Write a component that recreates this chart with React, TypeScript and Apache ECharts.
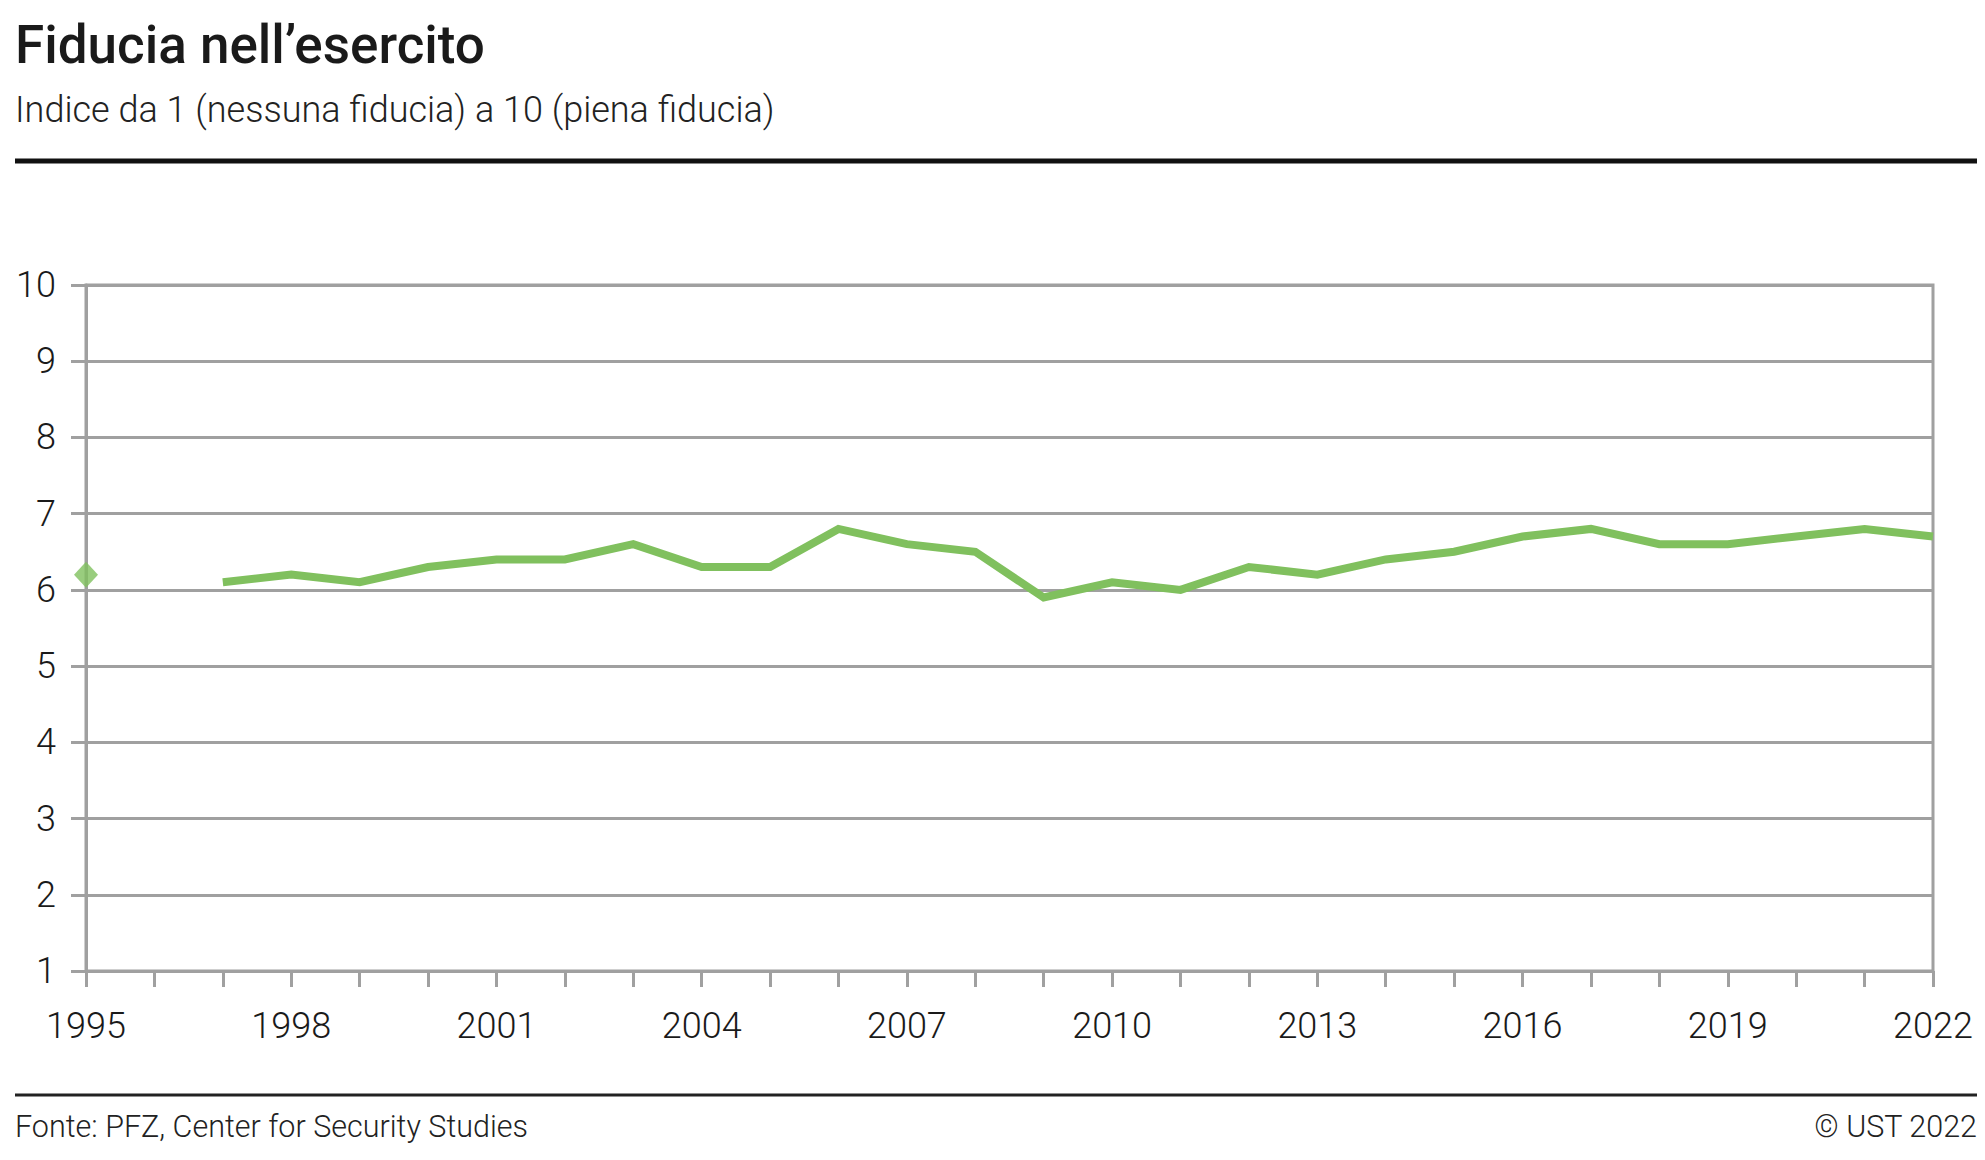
import React, { useEffect, useRef } from "react";
import * as echarts from "echarts";

const years = [
  "1995", "1996", "1997", "1998", "1999", "2000", "2001", "2002", "2003", "2004",
  "2005", "2006", "2007", "2008", "2009", "2010", "2011", "2012", "2013", "2014",
  "2015", "2016", "2017", "2018", "2019", "2020", "2021", "2022",
];
const trustValues: (number | null)[] = [
  null, null, 6.1, 6.2, 6.1, 6.3, 6.4, 6.4, 6.6, 6.3,
  6.3, 6.8, 6.6, 6.5, 5.9, 6.1, 6.0, 6.3, 6.2, 6.4,
  6.5, 6.7, 6.8, 6.6, 6.6, 6.7, 6.8, 6.7,
];
const isolatedPoints: [string, number][] = [["1995", 6.2]];

const titleText = "Fiducia nell\u2019esercito";
const subtitleText = "Indice da 1 (nessuna fiducia) a 10 (piena fiducia)";
const sourceText = "Fonte: PFZ, Center for Security Studies";
const copyrightText = "\u00A9 UST 2022";

const GREEN = "#80c05e";
const GRAY = "#a0a0a0";
const FONT = "Roboto, 'Noto Sans', sans-serif";

export default function App() {
  const ref = useRef<HTMLDivElement>(null);
  useEffect(() => {
    if (!ref.current) return;
    const chart = echarts.init(ref.current, undefined, { renderer: "svg" });
    chart.setOption({
      animation: false,
      backgroundColor: "#ffffff",
      grid: {
        left: 86,
        right: 52,
        top: 285,
        bottom: 189,
        show: true,
        borderColor: GRAY,
        borderWidth: 3,
        backgroundColor: "transparent",
      },
      xAxis: {
        type: "category",
        data: years,
        boundaryGap: false,
        axisLine: { show: true, lineStyle: { color: GRAY, width: 3 } },
        axisTick: { show: true, interval: 0, length: 16, lineStyle: { color: GRAY, width: 3 } },
        axisLabel: {
          interval: 2,
          margin: 37,
          color: "#1a1a1a",
          fontSize: 36,
          fontFamily: FONT,
          fontWeight: 300,
        },
        splitLine: { show: false },
      },
      yAxis: {
        type: "value",
        min: 1,
        max: 10,
        interval: 1,
        axisLine: { show: true, lineStyle: { color: GRAY, width: 3 } },
        axisTick: { show: true, length: 15, lineStyle: { color: GRAY, width: 3 } },
        axisLabel: {
          margin: 30,
          color: "#1a1a1a",
          fontSize: 36,
          fontFamily: FONT,
          fontWeight: 300,
        },
        splitLine: { show: true, lineStyle: { color: GRAY, width: 3 } },
      },
      series: [
        {
          type: "line",
          data: trustValues,
          connectNulls: false,
          symbol: "none",
          lineStyle: { color: GREEN, width: 8, cap: "butt", join: "miter" },
          itemStyle: { color: GREEN },
          z: 5,
        },
        {
          type: "scatter",
          data: isolatedPoints,
          symbol: "diamond",
          symbolSize: [24, 26],
          itemStyle: { color: GREEN },
          z: 6,
        },
      ],
      graphic: [
        {
          type: "text",
          x: 15,
          y: 45,
          style: {
            text: titleText,
            font: `500 53px ${FONT}`,
            fill: "#1a1a1a",
            textAlign: "left",
            textVerticalAlign: "middle",
          },
        },
        {
          type: "text",
          x: 15,
          y: 110,
          style: {
            text: subtitleText,
            font: `300 36px ${FONT}`,
            fill: "#222222",
            textAlign: "left",
            textVerticalAlign: "middle",
          },
        },
        {
          type: "line",
          shape: { x1: 15, y1: 161, x2: 1977, y2: 161 },
          style: { stroke: "#111111", lineWidth: 5 },
        },
        {
          type: "line",
          shape: { x1: 15, y1: 1095, x2: 1977, y2: 1095 },
          style: { stroke: "#222222", lineWidth: 3 },
        },
        {
          type: "text",
          x: 15,
          y: 1126,
          style: {
            text: sourceText,
            font: `300 30.5px ${FONT}`,
            fill: "#222222",
            textAlign: "left",
            textVerticalAlign: "middle",
          },
        },
        {
          type: "text",
          x: 1977,
          y: 1126,
          style: {
            text: copyrightText,
            font: `300 30.5px ${FONT}`,
            fill: "#222222",
            textAlign: "right",
            textVerticalAlign: "middle",
          },
        },
      ],
    });
    return () => chart.dispose();
  }, []);
  return (
    <div
      ref={ref}
      style={{ position: "fixed", left: 0, top: 0, width: 1985, height: 1160 }}
    />
  );
}
